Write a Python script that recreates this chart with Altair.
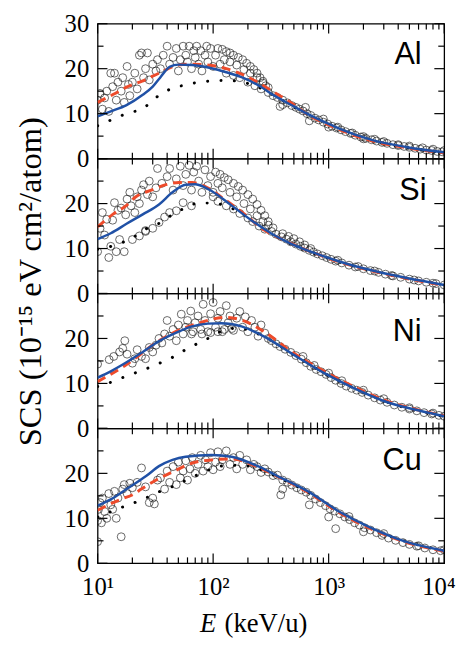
import altair as alt
import pandas as pd

# ---------------- data ----------------
PANELS = ["Al", "Si", "Ni", "Cu"]

# experimental points (E in keV/u, SCS in 1e-15 eV cm2/atom)
AL_EXP_E = [10, 10.5, 11, 11.5, 12, 12.5, 13, 13.5, 14, 14.5, 15, 16, 16.5, 17, 18, 18.5, 19, 20, 21, 22, 23, 24, 25, 26, 27, 28, 30, 32,
            33, 35, 37, 40, 42, 45, 48, 50, 52, 55, 58, 60, 62, 65, 68, 70, 72, 75, 78, 80, 85, 88, 90, 95, 100, 105, 110, 115,
            120, 130, 140, 150, 165, 180, 195, 210, 225, 240, 255, 270, 285,
            125, 140, 160, 185, 210, 240, 270, 300,
            130, 150, 170, 200, 230, 260, 300, 330, 360, 400, 440, 480, 520, 560, 600, 650, 700, 760, 820, 900, 980, 1070, 1170,
            1280, 1400, 1550, 1700, 1900, 2100, 2350, 2600, 2900, 3200, 3600, 4000, 4500, 5000, 5600, 6200, 7000, 7800, 8700, 9600,
            1200, 1600, 2000, 2500, 3000, 4000, 5000, 6500, 8000, 10000,
            380, 400, 630, 680, 900, 1000, 2000]
AL_EXP_V = [13, 14.5, 11, 13.5, 15, 10.5, 19, 16, 19, 13, 17, 15, 18, 12.5, 20.5, 16.5, 14, 17, 19, 15.5, 23, 23.5, 18, 20, 23.5, 17.5, 21, 19.5,
            22, 20, 23, 25, 21, 22.5, 24.5, 19.5, 22, 25, 23, 21.5, 25, 20, 24, 22.5, 25, 21, 24, 19.5, 23, 25, 21.5, 24.5, 20.5, 23, 24.5, 21,
            24.3, 23.8, 23.5, 23, 22.5, 22, 21.2, 20.5, 19.8, 19, 18, 17.2, 16.2,
            22, 21.5, 20.8, 19.8, 19, 18, 16.8, 15.8,
            19, 18.5, 18, 17, 16.2, 15.5, 14.7, 14, 13.6, 13, 12.4, 11.8, 11.4, 11, 10.6, 10, 9.6, 9, 8.6, 8.1, 7.7, 7.2, 6.8,
            6.4, 6, 5.6, 5.2, 4.8, 4.5, 4.2, 3.9, 3.6, 3.4, 3.1, 2.9, 2.7, 2.5, 2.3, 2.1, 1.9, 1.8, 1.6, 1.5,
            7, 5.7, 4.9, 4.3, 3.8, 3.1, 2.8, 2.4, 2.1, 1.8,
            11.6, 12, 11.4, 8.4, 8.8, 7.0, 4.4]

SI_EXP_E = [10, 10.5, 11, 11.5, 12, 12.5, 13, 13.5, 14, 14.5, 15, 15.5, 16, 17, 17.5, 18, 19, 19.5, 20, 21, 22, 23, 24, 25, 26, 27, 28, 30, 32,
            23, 26, 30, 34, 38, 42, 48, 55, 65,
            33, 36, 40, 42, 45, 48, 52, 55, 58, 62, 65, 68, 72, 75, 80, 85, 90, 95, 100, 105, 110,
            115, 125, 135, 150, 165, 180, 200, 220, 240, 260, 280, 300,
            120, 140, 160, 185, 210, 240, 270, 300, 330,
            100, 110, 130, 150, 170, 200, 220, 250, 280,
            320, 350, 390, 430, 470, 520, 570, 620, 680, 740, 800, 880, 960, 1050, 1150, 1300, 1500, 1700, 2000, 2300, 2700,
            3100, 3600, 4200, 5000, 6000, 7000, 8500, 10000,
            400, 450, 500, 560, 620, 700, 1200, 1800, 2500, 3500, 5500, 8000]
SI_EXP_V = [9.3, 14.5, 18, 13, 16.5, 8, 10.5, 16.3, 20.2, 9.3, 18.5, 12, 19, 9.3, 17.5, 21, 22.5, 19.5, 12, 18, 21.5, 20, 23, 24.2, 14, 22, 25, 21.5, 23.5,
            12.8, 13.8, 14.5, 15.8, 17, 18, 18.4, 20.2, 19.5,
            27.8, 24.5, 26, 27.8, 23, 25.5, 28.3, 24, 26.5, 28.5, 23, 27, 28.3, 25, 22.5, 27.5, 24, 26, 22.5, 27, 24.5,
            26.5, 25.8, 25.3, 24.5, 23.8, 23, 22, 21, 19.8, 18.5, 17.3, 16,
            23.5, 22.5, 21.5, 20, 18.8, 17.3, 16, 15.2, 14.6,
            21.5, 20.5, 19.5, 18.8, 17.8, 16.8, 16, 15, 14.3,
            13.8, 13.2, 12.6, 12.1, 11.5, 11, 10.5, 10.1, 9.6, 9.2, 8.8, 8.4, 8, 7.6, 7.2, 6.8, 6.3, 5.9, 5.5, 5.1, 4.7,
            4.3, 3.9, 3.6, 3.2, 2.8, 2.5, 2.2, 1.9,
            13.3, 12.7, 12.2, 11.5, 10.8, 10, 7.4, 6.0, 5.0, 4.0, 3.0, 2.3]

NI_EXP_E = [10, 12.6, 13.8, 15.5, 16.5, 17.2, 18, 20, 21, 22, 24, 26, 28, 30, 32, 34, 36, 38, 40, 42, 45, 48,
            50, 53, 55, 58, 60, 64, 67, 70, 74, 78, 82, 85, 90, 95, 100, 105, 110, 115, 120, 130, 135, 140, 150, 160, 170, 180, 190,
            200, 215, 230, 245, 260, 280, 300, 320, 350,
            65, 80, 95, 110, 125, 145,
            380, 420, 470, 520, 580, 640, 700, 780, 860, 950, 1050, 1150, 1280, 1420, 1580, 1750, 1950, 2200, 2500, 2800, 3200,
            3700, 4300, 5000, 5800, 6700, 7800, 9000, 10000,
            600, 750, 1000, 1300, 2000, 3000, 5000, 8000]
NI_EXP_V = [14.3, 15.3, 16, 17, 17.8, 19.5, 16.5, 14.5, 15.5, 17.5, 16, 15.5, 18, 17, 18.5, 20, 19, 21, 24, 20.5, 22, 19.5,
            23, 25.4, 21, 22.5, 24, 26.1, 21.5, 23.5, 25, 22, 27.6, 24, 21.5, 25.5, 28, 22.5, 24.5, 26, 21.5, 27.3, 23.5, 25, 21.8, 24.5, 26, 22.5, 24.8,
            21.5, 24, 22.5, 20.5, 23, 21.2, 20, 19.5, 18.8,
            21, 21, 21.3, 21.5, 22, 22.2,
            18.2, 17.6, 16.9, 16.2, 15.4, 14.6, 13.8, 13.1, 12.6, 12, 11.3, 10.7, 10, 9.4, 8.9, 8.5, 8, 7.4, 6.8, 6.3, 5.8,
            5.2, 4.7, 4.3, 3.9, 3.5, 3.2, 2.9, 2.7,
            16, 14, 12.3, 10.6, 8.5, 6.6, 4.6, 3.4]

CU_EXP_E = [10, 10, 10.2, 10.5, 10.8, 11, 11.5, 12, 12.5, 13, 13.5, 14, 14.5, 15, 16, 16.5, 17, 18, 19, 20, 22, 24, 26, 28, 30, 31, 33,
            35, 38, 40, 42, 45, 48, 50, 52, 55, 58, 60, 63, 66, 70, 74, 78, 82, 86, 90, 95, 100, 105, 110, 115, 120, 130, 140,
            150, 160, 170, 180, 195, 210, 225, 240, 260, 280,
            300, 330, 360, 400, 440, 480, 530, 580, 640, 700, 770, 850, 940, 1030, 1130, 1250, 1380, 1520, 1680, 1850, 2050,
            2300, 2600, 2900, 3300, 3800, 4400, 5000, 5800, 6800, 8000, 9300,
            385, 400, 680, 1000, 1150, 2000, 1500, 3000, 6000, 10000]
CU_EXP_V = [4.8, 9.5, 12, 13.5, 9, 14.5, 11.5, 10, 15.5, 13, 12, 16, 10, 14.5, 5.9, 16.5, 17.5, 15.5, 17.8, 16.8, 18, 21.2, 17, 13.5, 14.5, 13.2, 18.5,
            19, 16.5, 20.5, 18, 21.5, 17.5, 22.5, 19, 20.5, 22.8, 18.5, 21, 23.5, 20, 22, 24, 20.5, 23, 21.5, 24.6, 20.8, 22.5, 24.8, 21.5, 23, 25, 22,
            23.5, 21, 24, 22, 23, 20.8, 22, 21.5, 20.2, 21,
            20.3, 19.5, 19.6, 18.5, 18, 17.4, 16.8, 16.3, 15.8, 15.1, 14.3, 13.5, 12.8, 12.1, 11.6, 11, 10.3, 9.7, 9, 8.5, 7.9,
            7.4, 6.8, 6.2, 5.6, 5.1, 4.6, 4.2, 3.8, 3.4, 3.0, 2.8,
            15.2, 16.5, 13.0, 10.3, 7.7, 7.0, 10.4, 6.6, 3.9, 3.0]

# theory curves
AL_BLUE_E = [10, 13, 17.8, 24.6, 30, 34, 38, 42, 50, 66, 97, 130, 176, 250, 339, 500, 650, 1000, 1250, 2400, 4640, 10000]
AL_BLUE_V = [9.4, 10.5, 11.9, 14.2, 16.0, 17.7, 19.3, 20.4, 20.9, 20.8, 20.1, 19.2, 18.1, 16.2, 14.0, 11.6, 10.0, 7.7, 6.6, 4.1, 2.6, 1.4]
AL_RED_E = [10, 13.7, 17.8, 24.6, 34, 50, 66, 97, 130, 176, 250, 340, 500, 650, 1000, 2000, 5000, 10000]
AL_RED_V = [12.5, 14.3, 15.9, 17.3, 19.0, 20.8, 21.0, 20.7, 20.0, 18.8, 16.8, 14.7, 12.0, 9.9, 7.5, 4.5, 2.3, 1.3]
AL_DOT_E = [10, 11.2, 13.7, 18.5, 25.5, 31, 43, 58, 75, 100, 130, 180, 250, 340, 500, 1000, 2000, 5000, 10000]
AL_DOT_V = [7.3, 7.7, 8.9, 10.1, 11.4, 13.3, 15.5, 16.4, 17.0, 17.3, 17.4, 17.0, 15.8, 14.0, 11.5, 7.6, 4.6, 2.4, 1.4]

SI_BLUE_E = [10, 13, 17.8, 24.6, 34, 44.5, 57.7, 70, 85, 97, 144, 214, 316, 469, 700, 1000, 1740, 2400, 4630, 10000]
SI_BLUE_V = [12.1, 13.4, 15.5, 17.6, 19.8, 22.5, 24.2, 24.3, 23.6, 22.8, 19.6, 16.3, 13.4, 11.1, 9.3, 7.9, 6.0, 5.1, 3.5, 1.9]
SI_RED_E = [10, 13.7, 17.8, 20.9, 30, 39, 50.7, 65.8, 85.5, 126, 188, 277, 400, 600, 1000, 2400, 4630, 10000]
SI_RED_V = [14.8, 17.7, 19.6, 21.3, 23.1, 24.2, 24.7, 24.7, 23.8, 20.9, 17.6, 14.1, 12.0, 10.0, 7.8, 5.0, 3.4, 1.8]
SI_DOT_E = [10, 11.5, 15, 19.5, 25.5, 34, 43, 58, 75, 97, 150, 214, 316, 469, 1000, 2400, 10000]
SI_DOT_V = [9.8, 10.1, 11.0, 12.2, 14.2, 15.6, 17.3, 19.1, 20.1, 20.1, 18.8, 16.3, 13.3, 11.0, 7.8, 5.0, 1.9]

NI_BLUE_E = [10, 13, 17.8, 24.6, 34, 48, 65.8, 90, 118, 176, 277, 469, 900, 1740, 3330, 6410, 10000]
NI_BLUE_V = [11.3, 12.7, 14.7, 17.0, 19.4, 21.3, 22.7, 23.3, 23.4, 22.7, 20.4, 16.8, 12.4, 8.7, 5.7, 3.8, 2.7]
NI_RED_E = [10, 17.8, 34, 50, 75, 126, 176, 277, 469, 900, 1740, 3330, 6410, 10000]
NI_RED_V = [10.4, 14.2, 19.5, 21.8, 23.4, 24.7, 24.1, 21.5, 17.2, 12.8, 9.0, 5.9, 3.9, 2.8]
NI_DOT_E = [10, 11.2, 13.7, 18.5, 25.5, 33, 44.5, 57.7, 75, 90, 126, 164, 277, 469, 900, 1740, 3330, 10000]
NI_DOT_V = [9.3, 9.6, 10.5, 11.8, 13.1, 14.3, 15.8, 17.5, 19.0, 20.0, 21.9, 22.3, 20.4, 16.8, 12.4, 8.7, 5.7, 2.6]

CU_BLUE_E = [10, 13, 17.8, 26.3, 34, 44.5, 57.7, 97, 144, 244, 361, 650, 1250, 2400, 4630, 10000]
CU_BLUE_V = [12.8, 14.2, 16.5, 19.4, 21.6, 23.0, 23.7, 24.1, 23.7, 21.6, 19.4, 16.1, 11.4, 7.7, 4.8, 2.8]
CU_RED_E = [10, 16.1, 20.3, 23.9, 33, 44.5, 66, 97.5, 144, 244, 361, 650, 1250, 2400, 4630, 10000]
CU_RED_V = [11.8, 14.3, 15.3, 16.5, 18.7, 20.3, 22.3, 23.0, 23.2, 21.4, 19.3, 15.9, 11.2, 7.5, 4.7, 2.7]
CU_DOT_E = [10, 11.5, 14.9, 19.6, 25.5, 34, 43, 57.7, 75, 126, 180, 244, 361, 650, 1250, 2400, 10000]
CU_DOT_V = [10.3, 10.9, 12.1, 13.2, 14.4, 15.9, 16.9, 18.4, 19.8, 21.7, 21.8, 21.0, 19.2, 15.9, 11.2, 7.5, 2.7]

# panel label anchors (E, SCS)
LABEL_E = [6380, 7030, 6380, 6380]
LABEL_V = [21.0, 20.9, 19.4, 20.8]

# axis ticks
X_MAJOR = [10, 100, 1000, 10000]
X_MINOR = [20, 30, 40, 50, 60, 70, 80, 90, 200, 300, 400, 500, 600, 700, 800, 900,
           2000, 3000, 4000, 5000, 6000, 7000, 8000, 9000]
Y_MAJOR = [0, 10, 20, 30]
Y_MINOR = [5, 15, 25]
X_LABELS = ["10¹", "10²", "10³", "10⁴"]
Y_TITLE = "SCS (10⁻¹⁵ eV cm²/atom)"

# ---------------- chart ----------------
W, H = 352, 137
XS = alt.Scale(type="log", domain=[10, 10000], nice=False)
YS = alt.Scale(domain=[0, 30], nice=False)
SERIF = "Liberation Serif"
RED = "#EE4B2B"
BLUE = "#2051A6"

EXP = [(AL_EXP_E, AL_EXP_V), (SI_EXP_E, SI_EXP_V), (NI_EXP_E, NI_EXP_V), (CU_EXP_E, CU_EXP_V)]
BLUES = [(AL_BLUE_E, AL_BLUE_V), (SI_BLUE_E, SI_BLUE_V), (NI_BLUE_E, NI_BLUE_V), (CU_BLUE_E, CU_BLUE_V)]
REDS = [(AL_RED_E, AL_RED_V), (SI_RED_E, SI_RED_V), (NI_RED_E, NI_RED_V), (CU_RED_E, CU_RED_V)]
DOTS = [(AL_DOT_E, AL_DOT_V), (SI_DOT_E, SI_DOT_V), (NI_DOT_E, NI_DOT_V), (CU_DOT_E, CU_DOT_V)]

label_expr = " : ".join(
    f"datum.value == {v} ? '{t}'" for v, t in zip(X_MAJOR[:-1], X_LABELS[:-1])
) + f" : '{X_LABELS[-1]}'"
last_test = f"datum.value == {X_MAJOR[-1]}"


def panel(i):
    first = i == 0
    last = i == 3
    yaxis = alt.Axis(values=Y_MAJOR if first else Y_MAJOR[:-1], ticks=False, domain=False, grid=False,
                     labelFont=SERIF, labelFontSize=25, labelColor="black", labelPadding=9,
                     labelFlush=False, labelOverlap=False, title=None)
    if last:
        xaxis = alt.Axis(values=X_MAJOR, ticks=False, domain=False, grid=False, labelExpr=label_expr,
                         labelFont=SERIF, labelFontSize=25, labelColor="black", labelPadding=12,
                         labelFlush=False, labelOverlap=False, labelBound=False, title=None,
                         labelAlign={"condition": {"test": last_test, "value": "right"}, "value": "center"},
                         labelOffset={"condition": {"test": last_test, "value": 11}, "value": 0})
    else:
        xaxis = alt.Axis(values=X_MAJOR, ticks=False, domain=False, grid=False, labels=False, title=None)

    def xq():
        return alt.X("E:Q", scale=XS, axis=xaxis)

    def yq():
        return alt.Y("V:Q", scale=YS, axis=yaxis)

    e, v = EXP[i]
    circles = alt.Chart(pd.DataFrame({"E": e, "V": v})).mark_point(
        shape="circle", filled=False, size=64, color="#111111", strokeWidth=0.9, clip=True
    ).encode(x=xq(), y=yq())
    e, v = DOTS[i]
    dots = alt.Chart(pd.DataFrame({"E": e, "V": v})).mark_line(
        color="black", strokeWidth=3, strokeDash=[0.1, 13.5], strokeCap="round", interpolate="monotone", clip=True
    ).encode(x=xq(), y=yq())
    e, v = REDS[i]
    red = alt.Chart(pd.DataFrame({"E": e, "V": v})).mark_line(
        color=RED, strokeWidth=3, strokeDash=[9, 6], interpolate="monotone", clip=True
    ).encode(x=xq(), y=yq())
    e, v = BLUES[i]
    blue = alt.Chart(pd.DataFrame({"E": e, "V": v})).mark_line(
        color=BLUE, strokeWidth=2.5, interpolate="monotone", clip=True
    ).encode(x=xq(), y=yq())
    lab = alt.Chart(pd.DataFrame({"E": [LABEL_E[i]], "V": [LABEL_V[i]], "t": [PANELS[i]]})).mark_text(
        align="right", baseline="alphabetic", font="Liberation Sans", fontSize=31, color="black"
    ).encode(x=xq(), y=yq(), text="t:N")

    # inward tick marks
    r = dict(color="black", strokeWidth=1.2)
    ticks = []
    for vals, ln in ((X_MAJOR, 10), (X_MINOR, 6)):
        df = pd.DataFrame({"E": vals})
        ticks.append(alt.Chart(df).mark_rule(**r).encode(x=xq(), y=alt.value(0), y2=alt.value(ln)))
        ticks.append(alt.Chart(df).mark_rule(**r).encode(x=xq(), y=alt.value(H), y2=alt.value(H - ln)))
    for vals, ln in ((Y_MAJOR, 10), (Y_MINOR, 6)):
        df = pd.DataFrame({"V": vals})
        ticks.append(alt.Chart(df).mark_rule(**r).encode(y=yq(), x=alt.value(0), x2=alt.value(ln)))
        ticks.append(alt.Chart(df).mark_rule(**r).encode(y=yq(), x=alt.value(W), x2=alt.value(W - ln)))

    layers = [circles, dots, red, blue, lab] + ticks
    if i == 1:
        layers.append(
            alt.Chart(pd.DataFrame({"t": [Y_TITLE]})).mark_text(
                angle=270, align="center", baseline="alphabetic", font=SERIF, fontSize=33, color="black"
            ).encode(x=alt.value(-57), y=alt.value(125), text="t:N")
        )
    if last:
        layers.append(
            alt.Chart(pd.DataFrame({"t": ["E"]})).mark_text(
                align="left", baseline="alphabetic", font=SERIF, fontSize=27, fontStyle="italic", color="black"
            ).encode(x=alt.value(104), y=alt.value(207), text="t:N")
        )
        layers.append(
            alt.Chart(pd.DataFrame({"t": ["(keV/u)"]})).mark_text(
                align="left", baseline="alphabetic", font=SERIF, fontSize=27, color="black"
            ).encode(x=alt.value(129), y=alt.value(207), text="t:N")
        )
    return alt.layer(*layers).properties(width=W, height=H)


chart = alt.vconcat(*[panel(i) for i in range(4)], spacing=0, bounds="flush").properties(
    padding={"left": 7, "top": -2, "right": 0, "bottom": 0}, background="white"
).configure_view(stroke="black", strokeWidth=1.3)

chart.save("out.html", embed_options={"renderer": "svg", "actions": False})
